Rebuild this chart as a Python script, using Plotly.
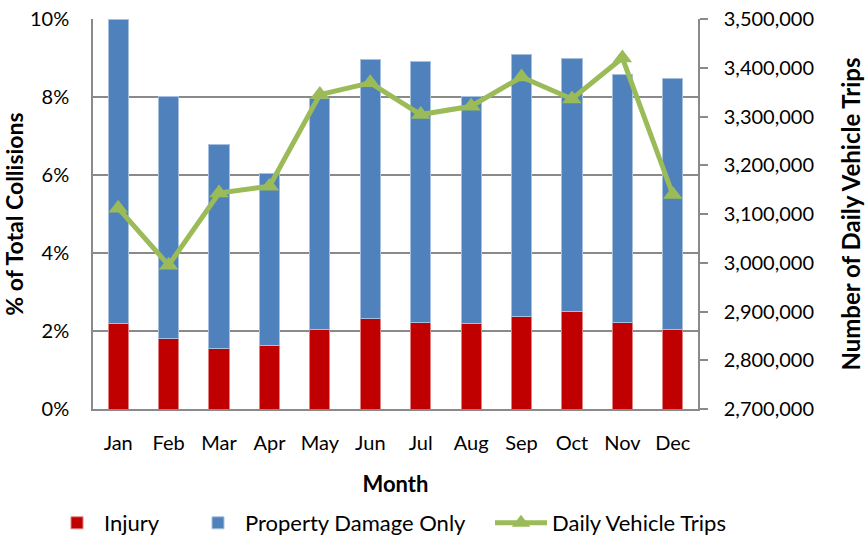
import plotly.graph_objects as go
from plotly.subplots import make_subplots

months = ["Jan", "Feb", "Mar", "Apr", "May", "Jun", "Jul", "Aug", "Sep", "Oct", "Nov", "Dec"]
injury_pct = [2.18, 1.82, 1.54, 1.63, 2.05, 2.33, 2.23, 2.19, 2.37, 2.51, 2.22, 2.05]
total_pct = [10.0, 8.02, 6.79, 6.03, 7.96, 8.95, 8.91, 8.01, 9.08, 9.00, 8.57, 8.48]
pdo_pct = [round(t - i, 2) for t, i in zip(total_pct, injury_pct)]
daily_trips = [3112000, 2995000, 3143000, 3157000, 3345000, 3369000,
               3304000, 3321000, 3381000, 3336000, 3420000, 3140000]

FONT = "Lato, 'Open Sans', sans-serif"
GRID = "#8a8a8a"

L, R, T, B = 93, 170, 19, 129
W, H = 868, 538
PW = W - L - R
PH = H - T - B


def px_x(px):
    return (px - L) / PW


def px_y(py):
    return (H - B - py) / PH


fig = make_subplots(specs=[[{"secondary_y": True}]])

fig.add_trace(go.Bar(
    x=months, y=injury_pct, name="Injury", legend="legend",
    marker=dict(color="#C00000", line=dict(color="#E08080", width=1)),
), secondary_y=False)
fig.add_trace(go.Bar(
    x=months, y=pdo_pct, name="Property Damage Only", legend="legend2",
    marker=dict(color="#4F81BD", line=dict(color="#A7C0DE", width=1)),
), secondary_y=False)
fig.add_trace(go.Scatter(
    x=months, y=daily_trips, name="Daily Vehicle Trips", mode="lines+markers",
    legend="legend3",
    line=dict(color="#9BBB59", width=5),
    marker=dict(symbol="triangle-up", size=17, color="#9BBB59"),
), secondary_y=True)

leg_common = dict(orientation="h", xanchor="left", yanchor="middle",
                  font=dict(size=22), bgcolor="rgba(0,0,0,0)")
ly = px_y(523)

fig.update_layout(
    width=W, height=H,
    margin=dict(l=L, r=R, t=T, b=B, autoexpand=False),
    barmode="stack", bargap=0.6,
    plot_bgcolor="white", paper_bgcolor="white",
    font=dict(family=FONT, size=20, color="black"),
    legend=dict(x=px_x(50), y=ly, itemwidth=44, **leg_common),
    legend2=dict(x=px_x(191), y=ly, itemwidth=44, **leg_common),
    legend3=dict(x=px_x(490), y=ly, itemwidth=52, **leg_common),
    showlegend=True,
)

fig.update_xaxes(
    domain=[0, 1],
    title=dict(text="<b>Month</b>", font=dict(size=22), standoff=24),
    range=[-0.5, 11.5], showline=True, linecolor=GRID, linewidth=1.5,
    ticks="", ticklabelstandoff=15, showgrid=False, automargin=False,
)
fig.update_yaxes(
    title=dict(text="<b>% of Total Collisions</b>", font=dict(size=23), standoff=4),
    range=[0, 10], dtick=2, ticksuffix="%", showgrid=True, gridcolor=GRID, gridwidth=1.5,
    showline=True, linecolor=GRID, linewidth=1.5, ticks="", ticklabelstandoff=18,
    zeroline=False, automargin=False,
    secondary_y=False,
)
fig.update_yaxes(
    title=dict(text="<b>Number of Daily Vehicle Trips</b>", font=dict(size=24), standoff=30),
    range=[2700000, 3500000], dtick=100000, tickformat=",d", showgrid=False,
    showline=True, linecolor=GRID, linewidth=1.5, ticks="outside", ticklen=8,
    tickcolor=GRID, tickwidth=1.5, ticklabelstandoff=12, zeroline=False, automargin=False,
    secondary_y=True,
)

fig.write_html("out.html", config={"displayModeBar": False},
               post_script="document.body.style.margin='0px';")
